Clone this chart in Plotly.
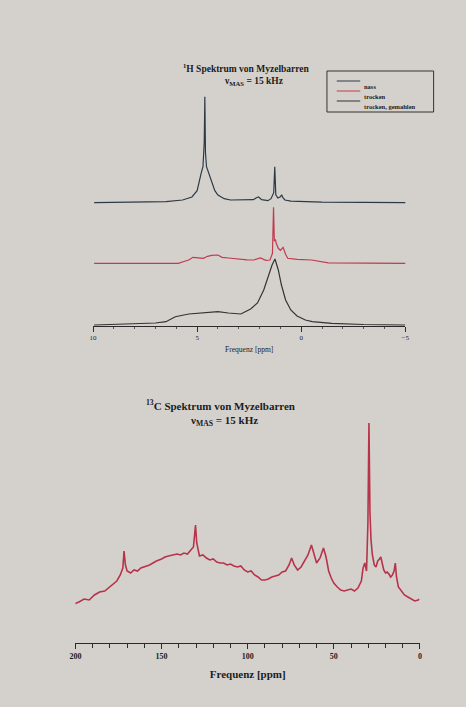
import plotly.graph_objects as go

# ---------------- data ----------------
# 1H spectra (ppm, intensity relative to own baseline)
h_ppm_start = [9.95, 8.0, 6.5, 5.7, 5.25, 5.0, 4.9, 4.8, 4.72, 4.66, 4.63, 4.6, 4.55, 4.45, 4.3,
               4.15, 4.0, 3.7, 3.4, 2.8, 2.3, 2.15, 2.05, 1.9, 1.6, 1.45, 1.32, 1.27, 1.22, 1.12,
               1.0, 0.94, 0.88, 0.78, 0.5, -1.0, -3.0, -5.1]
h_int_start = [0, 0.5, 1, 2.7, 5.7, 12, 22.7, 30, 36, 60, 106, 50, 36, 30, 20,
               12, 7.7, 4, 2.7, 2.5, 3, 5, 5.7, 3, 2, 4, 10, 36, 8, 4.7,
               6, 8, 5, 2.7, 1.5, 0.5, 0.3, 0]

h_ppm_mid = [9.95, 7.5, 5.9, 5.6, 5.4, 5.2, 4.94, 4.7, 4.5, 4.3, 4.0, 3.8, 3.5, 3.0, 2.6,
             2.28, 1.96, 1.7, 1.5, 1.38, 1.33, 1.29, 1.24, 1.2, 1.1, 1.0, 0.87, 0.75, 0.65,
             0.2, -0.5, -1.3, -3.0, -5.1]
h_int_mid = [0, 0, 0, 2, 3.3, 6, 5.3, 5, 7, 8, 8.3, 6, 5.3, 4, 3.5,
             3.3, 5.3, 3, 3.3, 10, 56, 22, 24, 20, 15, 13, 16, 9, 5,
             4, 3.3, 0.5, 0, 0]

h_ppm_end = [9.95, 8.2, 7.0, 6.5, 6.05, 5.4, 4.9, 4.45, 4.0, 3.5, 2.9, 2.43, 2.1, 1.8, 1.55,
             1.4, 1.26, 1.1, 0.95, 0.75, 0.5, 0.2, -0.2, -0.53, -1.47, -3.0, -5.0]
h_int_end = [0, 1, 2, 3.3, 8.3, 11, 12, 12.3, 13.3, 12, 11, 16, 22, 35, 50,
             60, 66, 55, 40, 25, 15, 9, 5, 3.3, 1.7, 0.5, 0]

h_names = ["nass", "trocken", "trocken, gemahlen"]
h_colors = ["#2c3a48", "#c23a4e", "#333333"]
h_stack = [123.3, 62.7, 1.0]   # vertical stacking offsets of the 1H spectra

# 13C spectrum (ppm, intensity)
c_ppm = [201, 198, 195, 192, 189, 186, 183, 180, 178, 176, 174, 172.5, 171.8, 171, 170,
         168, 166, 164, 162, 160, 157, 155, 153, 150, 148, 146, 143, 141, 139, 137,
         135, 133.5, 131.5, 130.3, 129.6, 128, 126, 124, 122, 120, 118, 116, 114, 112, 110,
         108, 106, 104, 102, 100, 98, 96, 94, 92, 90, 88, 86, 84, 82, 80,
         78, 76, 74.5, 73, 71, 69, 67, 65, 63, 61.5, 60, 58, 56, 54.5, 53,
         51.5, 50, 48, 46, 44, 42, 40, 38, 36, 34, 33, 32, 31, 30.2, 29.6,
         29.0, 28.4, 27.6, 26.5, 25.5, 24.5, 23.5, 22.7, 21.8, 21, 20, 19, 18, 17, 16,
         15, 14.3, 13.6, 12.5, 11, 9, 7, 5, 3, 1, 0.5]
c_int = [39, 41, 44, 43, 48, 51, 52, 56, 59, 62, 68, 75, 92, 78, 72,
         70, 73, 72, 75, 76, 78, 80, 82, 84, 86, 87, 88, 89, 88, 90,
         89, 92, 96, 118, 100, 87, 88, 85, 83, 84, 81, 80, 80, 78, 79,
         77, 76, 77, 73, 71, 72, 68, 66, 63, 63, 64, 66, 67, 68, 71,
         72, 78, 85, 78, 73, 76, 82, 88, 98, 90, 80, 85, 95, 86, 72,
         65, 60, 56, 53, 52, 53, 54, 52, 55, 62, 75, 80, 72, 120, 220,
         130, 103, 88, 78, 76, 82, 84, 86, 79, 73, 70, 71, 69, 66, 68,
         72, 80, 66, 56, 52, 48, 46, 44, 42, 43, 44]

h_ticks = [10, 5, 0, -5]
c_ticks = [200, 150, 100, 50, 0]

# ---------------- figure ----------------
W, H = 466, 707
BG = "#d4d1cd"
TXT = "#1c1c1c"
SERIF = "Liberation Serif"


def px(x):
    return x / W


def py(y):
    return 1 - y / H


fig = go.Figure()

for ppm, inten, name, col, off in zip([h_ppm_start, h_ppm_mid, h_ppm_end],
                                       [h_int_start, h_int_mid, h_int_end],
                                       h_names, h_colors, h_stack):
    fig.add_trace(go.Scatter(x=ppm, y=[v + off for v in inten], mode="lines", name=name,
                             line=dict(color=col, width=1.2), xaxis="x", yaxis="y",
                             showlegend=False))

fig.add_trace(go.Scatter(x=c_ppm, y=c_int, mode="lines", name="13C",
                         line=dict(color="#b8334a", width=1.6), xaxis="x2", yaxis="y2",
                         showlegend=False))

axis_common = dict(showline=True, linecolor="#2a2a2a", linewidth=1, ticks="outside",
                   tickcolor="#2a2a2a", showgrid=False, zeroline=False, mirror=False)

fig.update_layout(
    width=W, height=H,
    margin=dict(l=0, r=0, t=0, b=0),
    paper_bgcolor=BG, plot_bgcolor=BG,
    showlegend=False,
    xaxis=dict(domain=[px(89), px(408)], range=[10, -5], anchor="y",
               tickvals=h_ticks, ticklen=5, tickwidth=1,
               minor=dict(dtick=1, ticklen=2, ticks="outside", tickcolor="#555"),
               tickfont=dict(family=SERIF, size=7, color=TXT),
               title=dict(text="Frequenz [ppm]", font=dict(family=SERIF, size=7.5, color=TXT),
                          standoff=5),
               **axis_common),
    yaxis=dict(domain=[py(326), py(90)], range=[0, 236], visible=False),
    xaxis2=dict(domain=[px(71), px(423)], range=[200, 0], anchor="y2",
                tickvals=c_ticks, ticklen=5, tickwidth=1,
                minor=dict(dtick=10, ticklen=4, ticks="outside", tickcolor="#2a2a2a"),
                tickfont=dict(family=SERIF, size=8, color=TXT, weight="bold"),
                title=dict(text="Frequenz [ppm]",
                           font=dict(family=SERIF, size=11, color=TXT, weight="bold"),
                           standoff=10),
                **axis_common),
    yaxis2=dict(domain=[py(643), py(418)], range=[0, 225], visible=False),
)

# titles
fig.add_annotation(x=px(246), y=py(60), xref="paper", yref="paper", showarrow=False,
                   text="<b><sup>1</sup>H Spektrum von Myzelbarren</b>",
                   font=dict(family=SERIF, size=9.5, color=TXT))
fig.add_annotation(x=px(253), y=py(74), xref="paper", yref="paper", showarrow=False,
                   text="<b>ν<sub>MAS</sub> = 15 kHz</b>",
                   font=dict(family=SERIF, size=9.5, color=TXT))
fig.add_annotation(x=px(219), y=py(405), xref="paper", yref="paper", showarrow=False,
                   text="<b><sup>13</sup>C Spektrum von Myzelbarren</b>",
                   font=dict(family=SERIF, size=11, color=TXT))
fig.add_annotation(x=px(223), y=py(421), xref="paper", yref="paper", showarrow=False,
                   text="<b>ν<sub>MAS</sub> = 15 kHz</b>",
                   font=dict(family=SERIF, size=11, color=TXT))

# legend box (manual, compact)
fig.add_shape(type="rect", xref="paper", yref="paper",
              x0=px(328), x1=px(437), y0=py(112), y1=py(71),
              line=dict(color="#333", width=1), fillcolor=BG)
for i, (name, col) in enumerate(zip(h_names, h_colors)):
    yy = 81 + i * 10
    fig.add_shape(type="line", xref="paper", yref="paper",
                  x0=px(338), x1=px(362), y0=py(yy), y1=py(yy),
                  line=dict(color=col, width=1))
    fig.add_annotation(x=px(364), y=py(yy), xref="paper", yref="paper", showarrow=False,
                       xanchor="left", text="<b>" + name + "</b>",
                       font=dict(family=SERIF, size=6.5, color=TXT))

fig.write_html("out.html")
